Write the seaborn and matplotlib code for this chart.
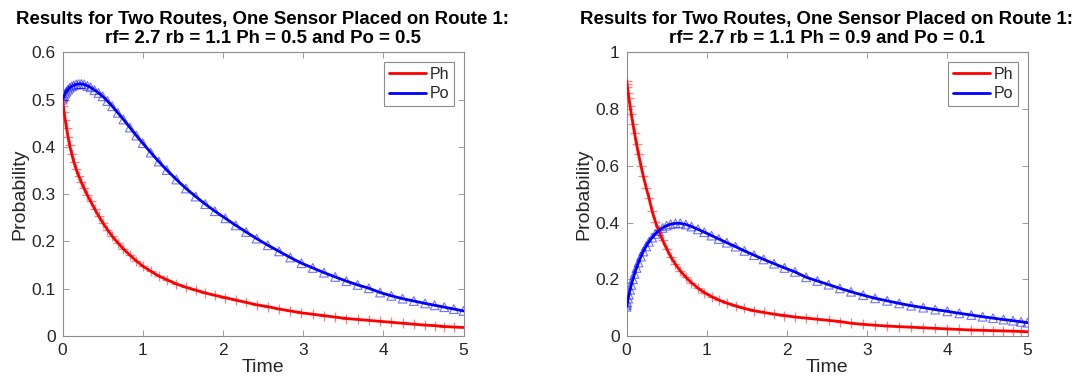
import matplotlib
matplotlib.use("Agg")
import matplotlib.pyplot as plt
import seaborn as sns
import pandas as pd

# ---------------- data ----------------
titles = [
    "Results for Two Routes, One Sensor Placed on Route 1:\nrf= 2.7 rb = 1.1 Ph = 0.5 and Po = 0.5",
    "Results for Two Routes, One Sensor Placed on Route 1:\nrf= 2.7 rb = 1.1 Ph = 0.9 and Po = 0.1",
]
series_names = ["Ph", "Po"]

t_left = [0, 0.01, 0.02, 0.035, 0.05, 0.07, 0.09, 0.115, 0.14, 0.17, 0.2, 0.235, 0.27, 0.31,
          0.35, 0.4, 0.45, 0.5, 0.56, 0.62, 0.69, 0.76, 0.84, 0.92, 1.0, 1.1, 1.2, 1.3, 1.42,
          1.54, 1.66, 1.78, 1.9, 2.03, 2.16, 2.29, 2.42, 2.56, 2.7, 2.84, 2.98, 3.12, 3.26,
          3.4, 3.54, 3.68, 3.82, 3.96, 4.1, 4.24, 4.38, 4.52, 4.64, 4.76, 4.88, 5.0]
ph_left = [0.500, 0.487, 0.474, 0.456, 0.440, 0.420, 0.403, 0.385, 0.369, 0.353, 0.339, 0.325,
           0.312, 0.298, 0.285, 0.269, 0.254, 0.240, 0.225, 0.211, 0.197, 0.184, 0.171, 0.159,
           0.148, 0.137, 0.127, 0.119, 0.110, 0.103, 0.097, 0.091, 0.086, 0.081, 0.076, 0.071,
           0.066, 0.062, 0.057, 0.053, 0.049, 0.046, 0.043, 0.040, 0.037, 0.035, 0.033, 0.031,
           0.029, 0.027, 0.025, 0.023, 0.022, 0.020, 0.019, 0.018]
po_left = [0.500, 0.504, 0.508, 0.513, 0.517, 0.521, 0.525, 0.528, 0.530, 0.532, 0.533, 0.533,
           0.532, 0.529, 0.526, 0.520, 0.514, 0.507, 0.497, 0.486, 0.472, 0.458, 0.441, 0.424,
           0.408, 0.388, 0.369, 0.351, 0.331, 0.312, 0.295, 0.279, 0.264, 0.249, 0.234, 0.220,
           0.206, 0.192, 0.179, 0.166, 0.154, 0.144, 0.134, 0.125, 0.116, 0.108, 0.101, 0.092,
           0.085, 0.079, 0.074, 0.069, 0.065, 0.061, 0.057, 0.053]

t_right = [0, 0.005, 0.01, 0.02, 0.03, 0.045, 0.06, 0.08, 0.1, 0.125, 0.15, 0.18, 0.21, 0.245,
           0.28, 0.32, 0.36, 0.4, 0.45, 0.5, 0.55, 0.61, 0.67, 0.74, 0.81, 0.89, 0.97, 1.06,
           1.15, 1.25, 1.36, 1.47, 1.59, 1.71, 1.84, 1.97, 2.1, 2.24, 2.38, 2.52, 2.66, 2.8,
           2.95, 3.1, 3.25, 3.4, 3.55, 3.7, 3.85, 4.0, 4.15, 4.3, 4.44, 4.57, 4.7, 4.82, 4.92, 5.0]
ph_right = [0.900, 0.889, 0.879, 0.858, 0.838, 0.810, 0.782, 0.748, 0.715, 0.676, 0.640, 0.600,
            0.563, 0.523, 0.487, 0.440, 0.403, 0.372, 0.338, 0.308, 0.280, 0.253, 0.230, 0.207,
            0.188, 0.169, 0.153, 0.139, 0.127, 0.116, 0.106, 0.097, 0.089, 0.083, 0.077, 0.072,
            0.067, 0.063, 0.059, 0.055, 0.051, 0.045, 0.041, 0.038, 0.035, 0.033, 0.031, 0.029,
            0.027, 0.025, 0.023, 0.021, 0.020, 0.019, 0.018, 0.017, 0.016, 0.015]
po_right = [0.103, 0.110, 0.118, 0.132, 0.145, 0.163, 0.180, 0.200, 0.219, 0.240, 0.259, 0.280,
            0.298, 0.316, 0.332, 0.347, 0.360, 0.370, 0.381, 0.389, 0.394, 0.397, 0.397, 0.393,
            0.386, 0.376, 0.366, 0.354, 0.342, 0.329, 0.315, 0.300, 0.285, 0.270, 0.255, 0.240,
            0.226, 0.207, 0.194, 0.181, 0.168, 0.156, 0.144, 0.133, 0.124, 0.115, 0.107, 0.100,
            0.093, 0.087, 0.080, 0.074, 0.068, 0.063, 0.058, 0.054, 0.050, 0.047]

x_ticks = [0, 1, 2, 3, 4, 5]
y_ticks_left = [0, 0.1, 0.2, 0.3, 0.4, 0.5, 0.6]
y_ticks_right = [0, 0.2, 0.4, 0.6, 0.8, 1]
y_tick_labels_right = ["0", "0.2", "0.4", "0.6", "0.8", "1"]

# ---------------- style ----------------
sns.set_style("white")
plt.rcParams["font.family"] = ["Liberation Sans", "DejaVu Sans"]

fig = plt.figure(figsize=(10.85, 3.92), dpi=100)
W, H = 1085.0, 392.0
ax_l = fig.add_axes([62.5 / W, (392 - 336) / H, 401 / W, 283.7 / H])
ax_r = fig.add_axes([626.5 / W, (392 - 336) / H, 401 / W, 283.7 / H])

panels = [
    (ax_l, t_left, ph_left, po_left, y_ticks_left, [("%g" % v) for v in y_ticks_left], 0.6, titles[0]),
    (ax_r, t_right, ph_right, po_right, y_ticks_right, y_tick_labels_right, 1.0, titles[1]),
]

axis_grey = "#262626"
spine_grey = "#8c8c8c"

for ax, t, ph, po, yt, ytl, ymax, title in panels:
    df = pd.DataFrame({"t": t, "Ph": ph, "Po": po})
    # translucent markers (solver points)
    sns.scatterplot(data=df, x="t", y="Ph", ax=ax, marker="+", color="red", s=50,
                    linewidth=0.9, alpha=0.5, legend=False, zorder=2)
    sns.scatterplot(data=df, x="t", y="Po", ax=ax, marker="^", facecolor="none",
                    edgecolor="blue", s=40, linewidth=0.8, alpha=0.55, legend=False, zorder=2)
    # solid lines
    sns.lineplot(data=df, x="t", y="Ph", ax=ax, color="red", linewidth=2.0,
                 estimator=None, label=series_names[0], zorder=3)
    sns.lineplot(data=df, x="t", y="Po", ax=ax, color="blue", linewidth=2.0,
                 estimator=None, label=series_names[1], zorder=3)

    ax.set_xlim(0, 5)
    ax.set_ylim(0, ymax)
    ax.set_xticks(x_ticks)
    ax.set_xticklabels([str(v) for v in x_ticks])
    ax.set_yticks(yt)
    ax.set_yticklabels(ytl)
    ax.tick_params(direction="in", length=4, width=0.6, color=spine_grey,
                   labelsize=12.5, labelcolor=axis_grey, top=True, right=True,
                   bottom=True, left=True, pad=5)
    for sp in ax.spines.values():
        sp.set_visible(True)
        sp.set_color(spine_grey)
        sp.set_linewidth(0.8)
    ax.set_xlabel("Time", fontsize=14, color=axis_grey, labelpad=1)
    ax.set_ylabel("Probability", fontsize=14, color=axis_grey, labelpad=2)
    ax.set_title(title, fontsize=13.4, fontweight="bold", color="black", pad=7,
                 linespacing=1.1)
    leg = ax.legend(loc="upper right", fontsize=11.5, frameon=True, fancybox=False,
                    edgecolor=spine_grey, framealpha=1, borderpad=0.3,
                    handlelength=2.3, handletextpad=0.25, labelspacing=0.3,
                    borderaxespad=0.6)
    leg.get_frame().set_linewidth(0.8)

fig.savefig("out.png", dpi=100)
